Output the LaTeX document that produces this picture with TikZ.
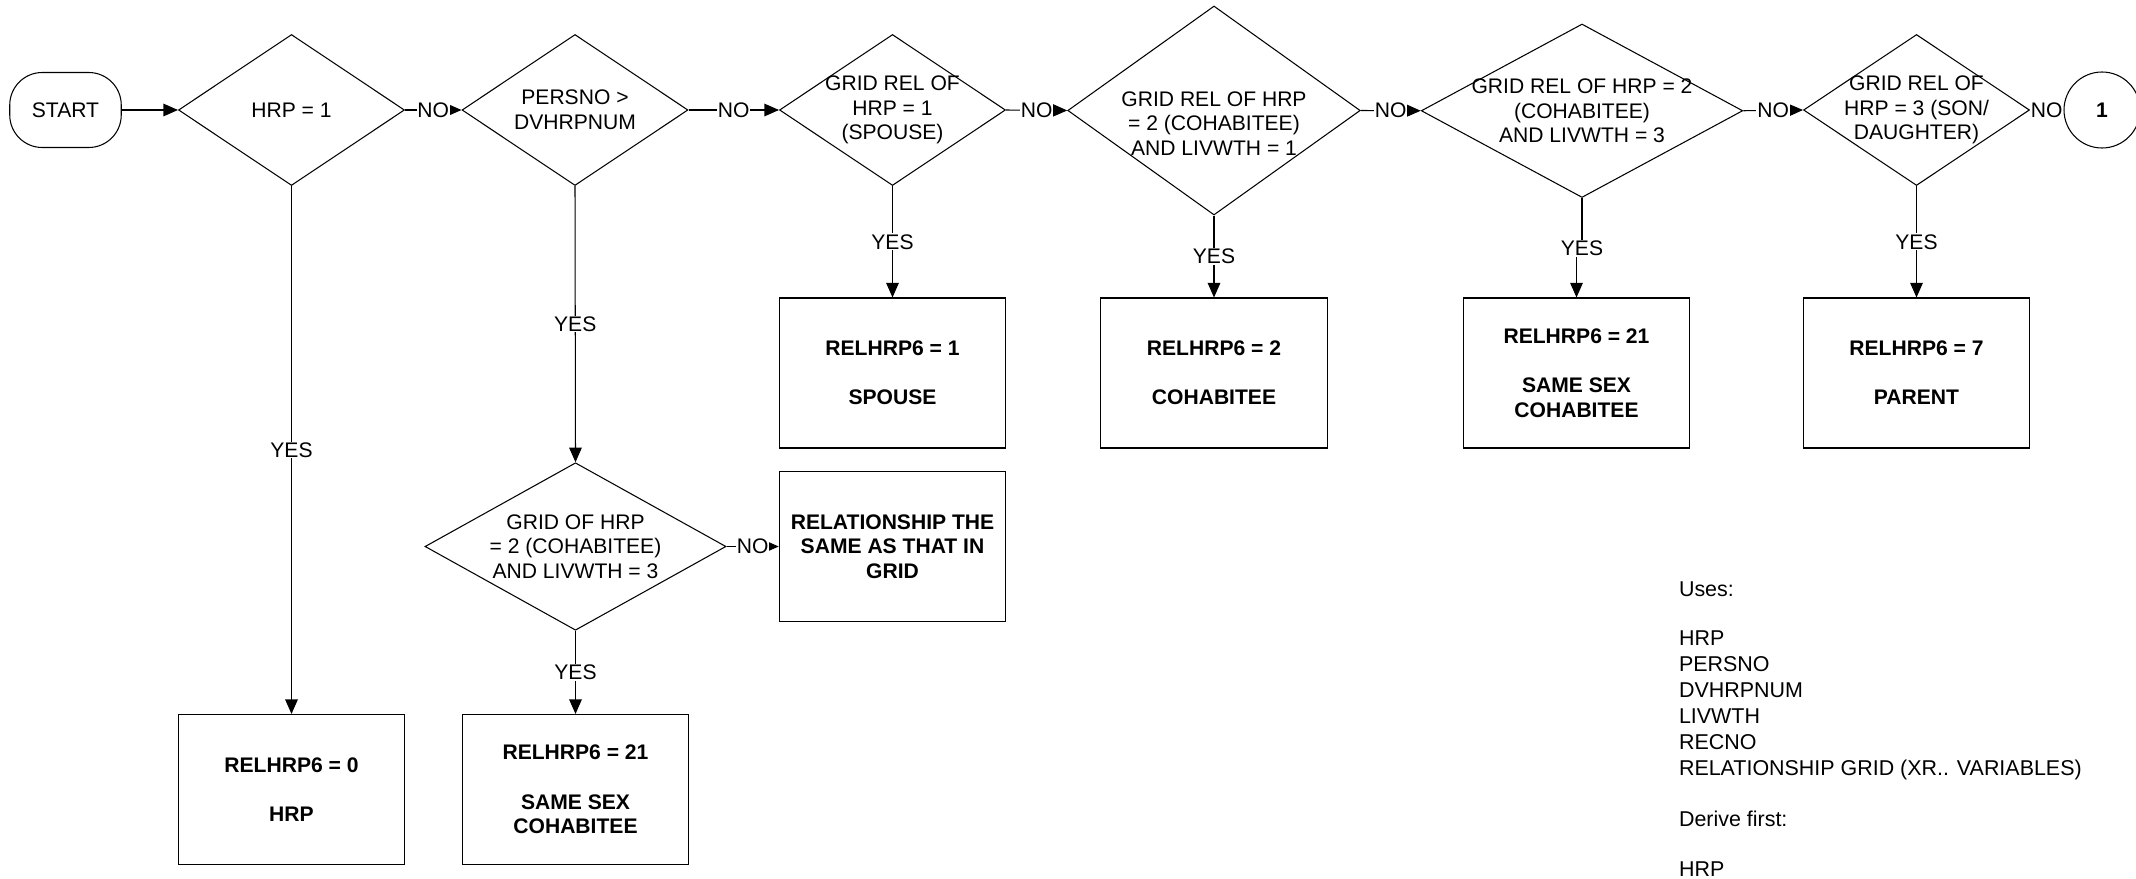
\documentclass[tikz,border=0pt]{standalone}
\usepackage{fontspec}
\setmainfont{Liberation Sans}
\usetikzlibrary{shapes.geometric, arrows.meta}

\begin{document}
\begin{tikzpicture}[
    line width=0.6pt,
    terminal/.style={rectangle, draw=black, rounded corners=0.65cm, minimum width=2.23cm, minimum height=1.5cm, font=\fontsize{12}{14}\selectfont},
    decision/.style={diamond, draw=black, minimum width=4.52cm, minimum height=3.02cm, inner sep=0pt},
    dtext/.style={align=center, inner sep=0pt, font=\fontsize{12}{14}\selectfont},
    outcome/.style={rectangle, draw=black, align=center, minimum width=4.53cm, minimum height=3.0cm, font=\fontsize{12}{14}\selectfont\bfseries},
    connector/.style={circle, draw=black, minimum size=1.52cm, inner sep=0pt, font=\fontsize{12}{14}\selectfont\bfseries},
    notes/.style={anchor=north west, align=left, inner sep=0pt, font=\fontsize{12.2}{14.8}\selectfont},
    flow/.style={draw, -{Triangle[length=2.9mm, width=2.5mm]}},
    yesno/.style={fill=white, inner sep=0.5pt, font=\fontsize{12}{14}\selectfont}
]
\useasboundingbox (0,0) rectangle (42.72,-17.58);

% ─── Main decision row ───────────────────────────────────────────────
\node[terminal] (start) at (1.31,-2.2) {START};

\node[decision] (d1) at (5.83,-2.2) {};
\node[dtext] (d1t) at (d1) {HRP = 1};

\node[decision] (d2) at (11.5,-2.2) {};
\node[dtext] (d2t) at (d2) {PERSNO >\\DVHRPNUM};

\node[decision] (d3) at (17.85,-2.2) {};
\node[dtext] (d3t) at (d3) {GRID REL OF\\HRP = 1\\(SPOUSE)};

\node[decision, minimum width=5.85cm, minimum height=4.18cm] (d4) at (24.28,-2.21) {};
\node[dtext] (d4t) at ([yshift=-0.26cm]d4.center) {GRID REL OF HRP\\= 2 (COHABITEE)\\AND LIVWTH = 1};

\node[decision, minimum width=6.43cm, minimum height=3.47cm] (d5) at (31.64,-2.215) {};
\node[dtext] (d5t) at (d5) {GRID REL OF HRP = 2\\(COHABITEE)\\AND LIVWTH = 3};

\node[decision] (d6) at (38.33,-2.2) {};
\node[dtext] (d6t) at (d6) {GRID REL OF\\HRP = 3 (SON/\\DAUGHTER)};

\node[connector] (con1) at (42.04,-2.2) {1};

% ─── Outcomes of the top row ─────────────────────────────────────────
\node[outcome] (b1) at (17.85,-7.46) {RELHRP6 = 1\\[14pt]SPOUSE};
\node[outcome] (b2) at (24.28,-7.46) {RELHRP6 = 2\\[14pt]COHABITEE};
\node[outcome] (b21) at (31.53,-7.46) {RELHRP6 = 21\\[14pt]SAME SEX\\COHABITEE};
\node[outcome] (b7) at (38.33,-7.46) {RELHRP6 = 7\\[14pt]PARENT};

% ─── Lower branch ────────────────────────────────────────────────────
\node[decision, minimum width=6.02cm, minimum height=3.35cm] (d7) at (11.51,-10.93) {};
\node[dtext] (d7t) at (d7) {GRID OF HRP\\= 2 (COHABITEE)\\AND LIVWTH = 3};
\node[outcome] (bgrid) at (17.85,-10.93) {RELATIONSHIP THE\\SAME AS THAT IN\\GRID};

\node[outcome] (b0) at (5.83,-15.79) {RELHRP6 = 0\\[14pt]HRP};
\node[outcome] (b21a) at (11.51,-15.79) {RELHRP6 = 21\\[14pt]SAME SEX\\COHABITEE};

% ─── Connectors ──────────────────────────────────────────────────────
\draw[flow] (start.east) -- (d1.west);
\foreach \a/\b in {d1/d2, d2/d3, d3/d4, d4/d5, d5/d6, d6/con1} {
    \draw[flow] (\a.east) -- node[yesno] {NO} (\b.west);
}
\foreach \a/\b in {d1/b0, d2/d7, d7/b21a, d3/b1, d4/b2, d6/b7} {
    \draw[flow] (\a.south) -- node[yesno] {YES} (\b.north);
}
% small jog under the label, box sits a little left of the diamond
\draw[flow] (d5.south) -- ++(0,-1.005) coordinate (j5) -| (b21.north);
\node[yesno] (y5) at (j5) {YES};
\draw[flow] (d7.east) -- node[yesno] {NO} (bgrid.west);

% ─── Notes ───────────────────────────────────────────────────────────
\node[notes] (uses) at (33.57,-11.62) {Uses:\\[0.47cm]HRP\\PERSNO\\DVHRPNUM\\LIVWTH\\RECNO\\RELATIONSHIP GRID (XR.. VARIABLES)\\[0.5cm]Derive first:\\[0.47cm]HRP};

\end{tikzpicture}
\end{document}
